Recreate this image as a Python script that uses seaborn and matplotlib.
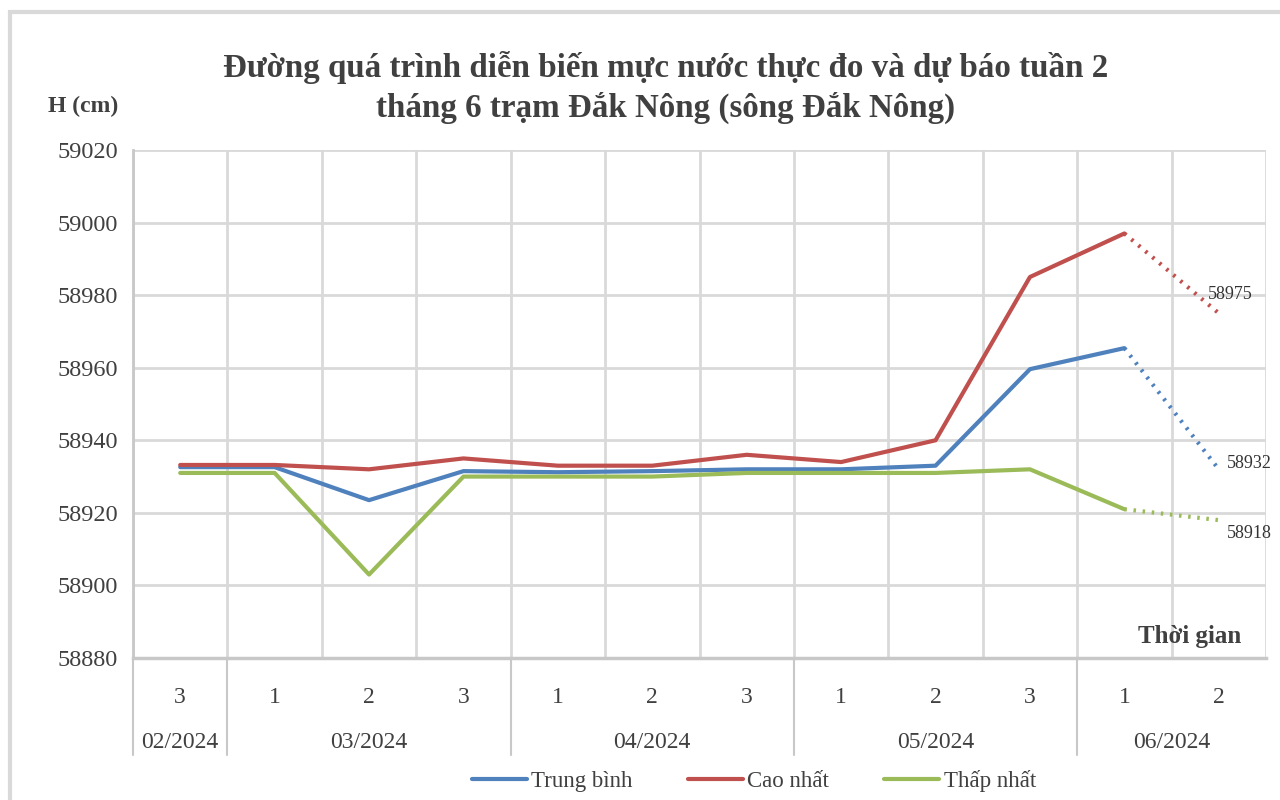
import numpy as np
import pandas as pd
import matplotlib.pyplot as plt
import seaborn as sns
from matplotlib.lines import Line2D
from matplotlib.patches import Rectangle
import matplotlib.transforms as mtransforms

# ─────────────────────────────────────────────
# 데이터
# ─────────────────────────────────────────────
weeks = ["3", "1", "2", "3", "1", "2", "3", "1", "2", "3", "1", "2"]
months = ["02/2024", "03/2024", "04/2024", "05/2024", "06/2024"]
month_sizes = [1, 3, 3, 3, 2]

trung_binh = [58932.6, 58932.6, 58923.5, 58931.5, 58931.2, 58931.5, 58932, 58932, 58933, 58959.6, 58965.4, 58932]
cao_nhat = [58933.2, 58933.2, 58932, 58935, 58933, 58933, 58936, 58934, 58940, 58985, 58997, 58975]
thap_nhat = [58931, 58931, 58903, 58930, 58930, 58930, 58931, 58931, 58931, 58932, 58921, 58918]
n_obs = 11  # last point is forecast

series_names = ["Trung bình", "Cao nhất", "Thấp nhất"]
colors = ["#4F81BD", "#C0504D", "#9BBB59"]

# ─────────────────────────────────────────────
# 그리기
# ─────────────────────────────────────────────
sns.set_style("white")
plt.rcParams['font.family'] = ['Liberation Serif', 'DejaVu Serif']

fig = plt.figure(figsize=(12.8, 8), dpi=100)
ax = fig.add_axes([133 / 1280, 1 - 658 / 800, (1266 - 133) / 1280, (658 - 150) / 800])

rows = []
for name, vals in zip(series_names, [trung_binh, cao_nhat, thap_nhat]):
    for i, v in enumerate(vals):
        rows.append({"x": i, "H": v, "series": name})
df = pd.DataFrame(rows)

obs = df[df["x"] < n_obs]
sns.lineplot(data=obs, x="x", y="H", hue="series", palette=colors,
             hue_order=series_names, linewidth=3, ax=ax, legend=False)
fc = df[df["x"] >= n_obs - 1]
sns.lineplot(data=fc, x="x", y="H", hue="series", palette=colors,
             hue_order=series_names, linewidth=3, ax=ax, legend=False)
for line in ax.lines[len(series_names):]:
    line.set_linestyle((0, (0.6, 1.6)))

# forecast labels
for vals, dx, dy in zip([trung_binh, cao_nhat, thap_nhat], [0.09, -0.12, 0.09], [1.7, 5.3, -3.6]):
    ax.text(len(vals) - 1 + dx, vals[-1] + dy, f"{vals[-1]:.0f}", fontsize=13,
            color="#333333", va="center", ha="left", clip_on=False)

ax.set_xlim(-0.5, len(weeks) - 0.5)
ax.set_ylim(58880, 59020)
ax.set_yticks(np.arange(58880, 59021, 20))
ax.set_yticklabels([f"{v}" for v in np.arange(58880, 59021, 20)], fontsize=17.5, color="#404040")
ax.set_xticks(np.arange(-0.5, len(weeks), 1), minor=True)
ax.set_xticks(np.arange(len(weeks)))
ax.set_xticklabels(weeks, fontsize=17, color="#404040")
ax.tick_params(axis="x", which="both", length=0, pad=21)
ax.tick_params(axis="y", length=0, pad=11)
ax.grid(axis="y", color="#D9D9D9", linewidth=2)
ax.grid(axis="x", which="minor", color="#D9D9D9", linewidth=2)
ax.grid(axis="x", which="major", visible=False)
ax.set_xlabel("")
ax.set_ylabel("")
for s in ["top", "right"]:
    ax.spines[s].set_visible(False)
ax.spines["left"].set_color("#C8C8C8")
ax.spines["left"].set_linewidth(2)
ax.spines["bottom"].set_color("#C8C8C8")
ax.spines["bottom"].set_linewidth(2.5)

# month level labels + separators
trans = mtransforms.blended_transform_factory(ax.transData, ax.transAxes)
start = 0
seps = [-0.5]
for m, size in zip(months, month_sizes):
    center = start + (size - 1) / 2
    ax.text(center, -84 / 508, m, transform=trans, ha="center", va="center",
            fontsize=17, color="#404040")
    start += size
    seps.append(start - 0.5)
for s in seps[:-1]:
    ax.add_line(Line2D([s, s], [0, -97 / 508], transform=trans, color="#C8C8C8",
                       linewidth=1.5, clip_on=False))

# titles and axis names
fig.text(666 / 1280, 1 - 67 / 800, "Đường quá trình diễn biến mực nước thực đo và dự báo tuần 2",
         ha="center", va="center", fontsize=23.8, fontweight="bold", color="#404040")
fig.text(666 / 1280, 1 - 108 / 800, "tháng 6 trạm Đắk Nông (sông Đắk Nông)",
         ha="center", va="center", fontsize=23.8, fontweight="bold", color="#404040")
fig.text(83 / 1280, 1 - 106 / 800, "H (cm)", ha="center", va="center",
         fontsize=17, fontweight="bold", color="#404040")
fig.text(1190 / 1280, 1 - 636 / 800, "Thời gian", ha="center", va="center",
         fontsize=18, fontweight="bold", color="#404040")

# legend
handles = [Line2D([0], [0], color=c, linewidth=3) for c in colors]
fig.legend(handles, series_names, loc="center", bbox_to_anchor=(754 / 1280, 1 - 781 / 800),
           ncol=3, frameon=False, fontsize=16.5, handlelength=2.4, columnspacing=2.4,
           handletextpad=0.2, labelcolor="#404040")

# outer frame
fig.patches.append(Rectangle((10 / 1280, -0.01), 1.2, 1 - 12 / 800 + 0.01,
                             transform=fig.transFigure, fill=False,
                             edgecolor="#D9D9D9", linewidth=3))

fig.savefig("out.png", dpi=100)
plt.close(fig)
